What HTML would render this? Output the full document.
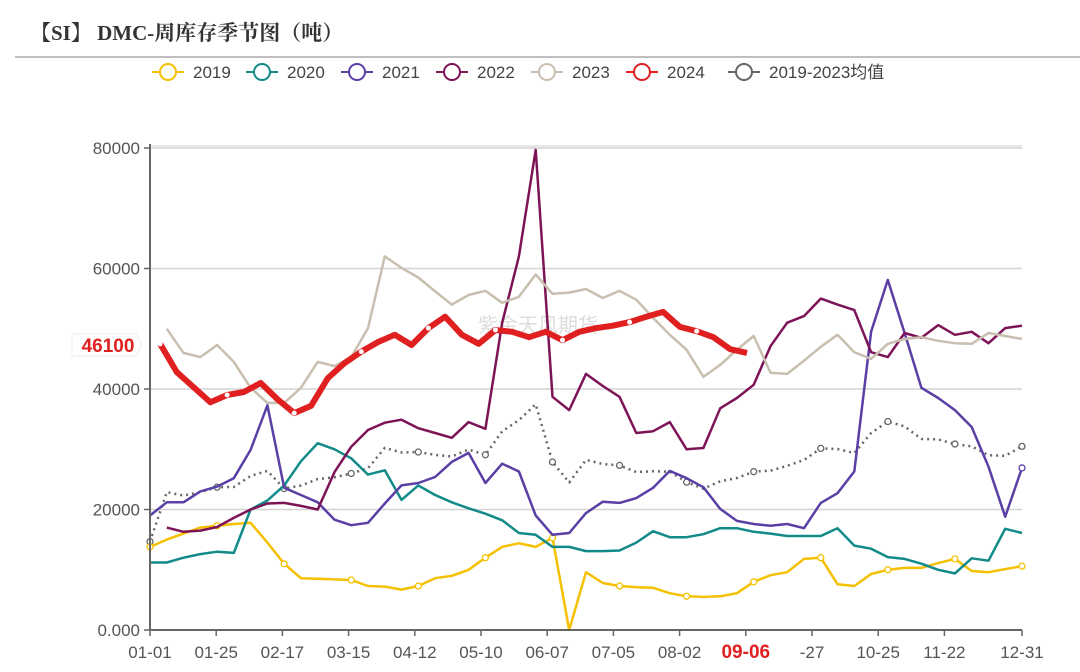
<!DOCTYPE html>
<html><head><meta charset="utf-8">
<style>
body{margin:0;background:#fff;width:1080px;height:667px;overflow:hidden;font-family:"Liberation Sans","Noto Sans CJK SC",sans-serif;}
</style></head>
<body>
<svg id="chart" width="1080" height="667" xmlns="http://www.w3.org/2000/svg">
<text x="30" y="40" font-family="'Liberation Serif','Noto Serif CJK SC',serif" font-weight="bold" font-size="21" fill="#333">【SI】 DMC-周库存季节图（吨）</text>
<line x1="15" y1="57" x2="1080" y2="57" stroke="#aaa" stroke-width="1.5"/>
<g id="grid"></g>
<text x="478" y="332" font-size="20" fill="#ddd">紫金天风期货</text>
<g id="series"></g>
<g id="axes"></g>
<g id="legend"></g>
</svg>
<script>
const categories = ["01-01","01-25","02-17","03-15","04-12","05-10","06-07","07-05","08-02","09-06","-27","10-25","11-22","12-31"];
const yTicks = [0,20000,40000,60000,80000];
const yTickLabels = ["0.000","20000","40000","60000","80000"];
const s2019 = [13.8,15,16,17,17.3,17.6,17.8,14.5,11,8.6,8.5,8.4,8.3,7.3,7.2,6.7,7.3,8.6,9,10,12,13.8,14.4,13.8,15.3,0,9.6,7.8,7.3,7.1,7,6.1,5.6,5.5,5.6,6.1,8,9.1,9.6,11.8,12,7.6,7.3,9.3,10,10.3,10.3,11.1,11.8,9.8,9.6,10.1,10.6];
const s2020 = [11.2,11.2,12,12.6,13,12.8,20,21.5,24,28,31,30,28.5,25.8,26.5,21.6,24,22.4,21.2,20.2,19.3,18.2,16.1,15.8,13.8,13.8,13.1,13.1,13.2,14.5,16.4,15.4,15.4,15.9,16.9,16.9,16.3,16,15.6,15.6,15.6,16.9,14,13.5,12.1,11.8,11,10,9.4,11.9,11.5,16.8,16.1];
const s2021 = [19,21.2,21.2,23,23.8,25.2,29.9,37.3,23.6,22.4,21.2,18.3,17.4,17.8,21,24,24.4,25.4,27.9,29.4,24.4,27.6,26.3,19,15.8,16.1,19.4,21.3,21.1,21.9,23.6,26.4,25.2,23.7,20.1,18.1,17.6,17.3,17.6,16.9,21.1,22.7,26.3,49.5,58.1,49.3,40.2,38.5,36.5,33.7,27.1,18.8,26.9];
const s2022 = [null,17,16.3,16.5,17.1,18.6,20,21,21.1,20.6,20,26.2,30.4,33.2,34.4,34.9,33.5,32.7,31.9,34.5,33.4,51,62,79.7,38.7,36.5,42.5,40.5,38.7,32.7,33,34.5,30,30.2,36.8,38.5,40.7,47.1,51,52.1,55,54,53.1,46.1,45.3,49.3,48.5,50.6,49,49.5,47.6,50.1,50.5];
const s2023 = [null,50,46,45.3,47.3,44.5,40.2,37.7,37.7,40.2,44.5,43.8,45.3,50.1,62,60.1,58.5,56.2,54,55.6,56.3,54.3,55.3,59,55.8,56,56.6,55.1,56.3,54.8,51.8,49,46.5,42,44,46.5,48.8,42.7,42.5,44.7,47,49,46.1,45,47.5,48.3,48.6,48,47.6,47.5,49.3,48.8,48.3];
const s2024 = [47.5,42.8,40.3,37.8,39,39.5,41,38.3,36,37.2,41.8,44.3,46.2,47.8,49,47.3,50.1,52,49,47.5,49.8,49.5,48.6,49.5,48.1,49.5,50.1,50.5,51.1,52,52.8,50.3,49.6,48.6,46.6,46];
const latestLabel = "46100";

const NS="http://www.w3.org/2000/svg";
const X0=150,X1=1022,Y0=630,Y1=148,N=53;
const xS=i=>X0+i*(X1-X0)/(N-1);
const yS=v=>Y0-(v/80000)*(Y0-Y1);
function mk(tag,attrs,parent){const e=document.createElementNS(NS,tag);for(const k in attrs)e.setAttribute(k,attrs[k]);parent.appendChild(e);return e;}
const grid=document.getElementById('grid'),axes=document.getElementById('axes'),ser=document.getElementById('series'),leg=document.getElementById('legend');

yTicks.forEach((t,i)=>{
  const y=yS(t);
  if(t>0){const g=mk('line',{x1:X0,x2:1022,y1:y,y2:y,stroke:'#d4d4d4','stroke-width':1.5},grid);
  
  }
  const tk=mk('line',{x1:X0-6,x2:X0,y1:y,y2:y,stroke:'#666','stroke-width':1.5},axes);
  
  
  const tx=mk('text',{x:X0-10,y:y+6,'text-anchor':'end','font-size':17,fill:'#555'},axes);
  
  
  tx.textContent=yTickLabels[i];
});
mk('line',{x1:X0,x2:1022,y1:Y1-2,y2:Y1-2,stroke:'#e0e0e0','stroke-width':1.5},grid);
const ya=mk('line',{x1:X0,x2:X0,y1:Y1-4,y2:Y0,stroke:'#666','stroke-width':2},axes);


const xa=mk('line',{x1:X0,x2:1022,y1:Y0,y2:Y0,stroke:'#666','stroke-width':2},axes);


categories.forEach((c,i)=>{
  const x=i===categories.length-1?X1:X0+i*66.2;
  const tk=mk('line',{x1:x,x2:x,y1:Y0,y2:Y0+6,stroke:'#666','stroke-width':1.5},axes);
  
  
  const red=c==="09-06";
  const tx=mk('text',{x:x,y:658,'text-anchor':'middle','font-size':red?19:17,fill:red?'#e02020':'#555','font-weight':red?'bold':'normal'},axes);
  
  
  tx.textContent=c;
});

const avg=[];
for(let i=0;i<N;i++){const vals=[s2019,s2020,s2021,s2022,s2023].map(s=>s[i]).filter(v=>v!=null&&v!==undefined);avg.push(vals.reduce((a,b)=>a+b,0)/vals.length);}

function drawSeries(data,color,w,name,dash,markers,off){
  const px=i=>xS(i+off);
  let d='';data.forEach((v,i)=>{if(v==null)return;d+=(d?'L':'M')+px(i).toFixed(1)+','+yS(v*1000).toFixed(1);});
  const p=mk('path',{d:d,fill:'none',stroke:color,'stroke-width':w,'stroke-linejoin':'round'},ser);
  if(dash)p.setAttribute('stroke-dasharray',dash);
  
  
  if(!markers)return;
  data.forEach((v,i)=>{if(v==null||i%4!==0)return;
    const c=mk('circle',{cx:px(i),cy:yS(v*1000),r:w>4?2.5:3,fill:'#fff',stroke:w>4?'none':color,'stroke-width':1.3},ser);
    
    });
}
drawSeries(avg,'#666',2.5,'line-avg-2019-2023','2 4',true,0);
drawSeries(s2019,'#f5c000',2.5,'line-2019',null,true,0);
drawSeries(s2020,'#138a8a',2.5,'line-2020',null,false,0);
drawSeries(s2021,'#5a3fa5',2.5,'line-2021',null,false,0);
drawSeries(s2022,'#7d1457',2.5,'line-2022',null,false,0);
drawSeries(s2023,'#c9bfb0',2.5,'line-2023',null,false,0);
drawSeries(s2024,'#e02020',6,'line-2024',null,true,0.6);
const endM=mk('circle',{cx:xS(s2021.length-1),cy:yS(s2021[s2021.length-1]*1000),r:3,fill:'#fff',stroke:'#5a3fa5','stroke-width':1.3},ser);



const lb=mk('path',{d:'M72,334 L136,334 L142,345 L136,356 L72,356 Z',fill:'#fff',stroke:'#eee'},axes);


const lt=mk('text',{x:108,y:352,'text-anchor':'middle','font-size':19,'font-weight':'bold',fill:'#e02020'},axes);


lt.textContent=latestLabel;

const legendNames=["2019","2020","2021","2022","2023","2024","2019-2023均值"];
const legendColors=['#f5c000','#138a8a','#5a3fa5','#7d1457','#c9bfb0','#e02020','#666'];
const legendX=[152,246,341,436,531,626,728];
legendNames.forEach((n,i)=>{
  const g=mk('g',{},leg);
  
  
  const x=legendX[i];
  mk('line',{x1:x,x2:x+32,y1:72,y2:72,stroke:legendColors[i],'stroke-width':2},g);
  mk('circle',{cx:x+16,cy:72,r:8,fill:'#fff',stroke:legendColors[i],'stroke-width':2},g);
  const t=mk('text',{x:x+41,y:78,'font-size':17,fill:'#444'},g);
  t.textContent=n;
});
</script>
</body></html>
